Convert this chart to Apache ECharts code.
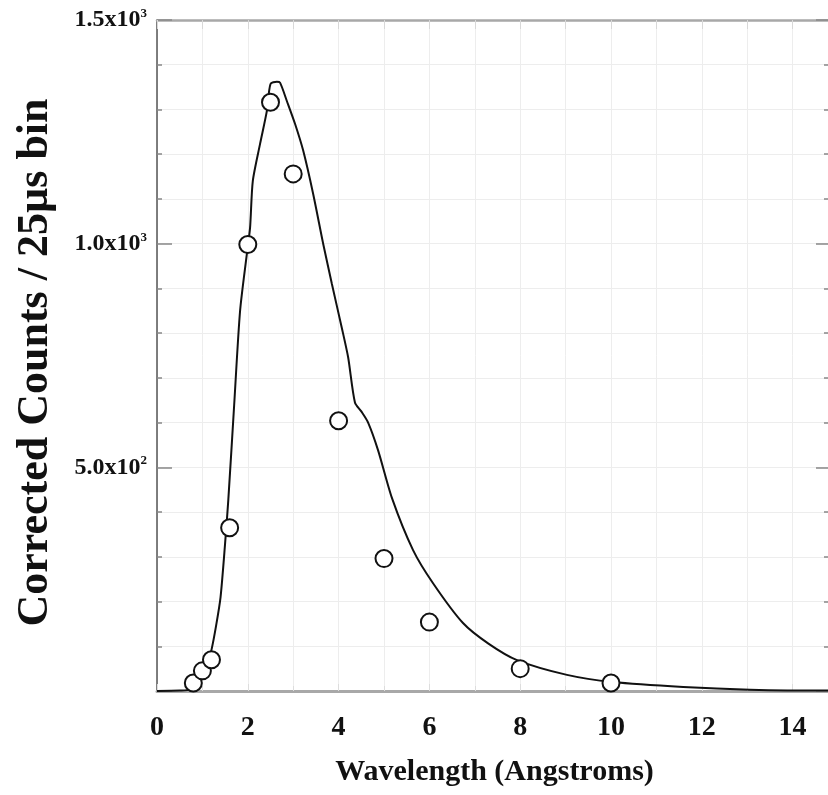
<!DOCTYPE html>
<html>
<head>
<meta charset="utf-8">
<script src="https://cdn.jsdelivr.net/npm/echarts@6/dist/echarts.min.js"></script>
<style>html,body{margin:0;padding:0;background:#fff;overflow:hidden}#c{width:828px;height:795px}</style>
</head>
<body>
<div id="c"></div>
<script>
// Measured data points (open circles)
var pointX = [0.8, 1.0, 1.2, 1.6, 2.0, 2.5, 3.0, 4.0, 5.0, 6.0, 8.0, 10.0];
var pointY = [18, 45, 70, 365, 998, 1316, 1156, 604, 296, 154, 50, 18];

// Fitted curve
var curveX = [0, 0.5, 0.75, 0.9, 1.0, 1.1, 1.2, 1.3, 1.4, 1.5, 1.57, 1.7, 1.83, 1.98, 2.05, 2.11, 2.27, 2.42, 2.5, 2.64, 2.71, 2.86, 3.04, 3.22, 3.44, 3.66, 3.85, 4.07, 4.21, 4.36, 4.5, 4.65, 4.87, 5.18, 5.64, 6.08, 6.74, 7.3, 7.93, 9.03, 10.04, 11.59, 13.06, 14.76, 15];
var curveY = [0, 1, 3, 12, 30, 55, 92, 145, 210, 330, 426, 640, 850, 978, 1036, 1140, 1223, 1297, 1357, 1362, 1360, 1319, 1268, 1208, 1111, 1000, 911, 812, 746, 645, 625, 600, 538, 430, 315, 241, 152, 106, 69, 36, 20, 9, 3, 1, 1];

// Tick labels
var yTickValues = [500, 1000, 1500];
var yTickMantissa = ['5.0', '1.0', '1.5'];
var yTickExponent = ['2', '3', '3'];

var xName = 'Wavelength (Angstroms)';
var yName = 'Corrected Counts / 25\u00b5s bin';

var FONT = '"Liberation Serif", "Times New Roman", serif';

var scatterData = pointX.map(function (x, i) { return [x, pointY[i]]; });
var curveData = curveX.map(function (x, i) { return [x, curveY[i]]; });

var chart = echarts.init(document.getElementById('c'), null, {renderer: 'canvas'});
var gridColor = '#ededed';

chart.setOption({
  animation: false,
  backgroundColor: '#fff',
  grid: {left: 157, top: 20, width: 681, height: 671, containLabel: false, outerBoundsMode: 'none'},
  xAxis: [{
    type: 'value', min: 0, max: 15, interval: 2, position: 'bottom',
    name: xName, nameLocation: 'middle', nameGap: 66,
    nameTextStyle: {fontFamily: FONT, fontWeight: 'bold', fontSize: 30, color: '#111', padding: [0, 6, 0, 0]},
    axisLine: {show: true, onZero: false, lineStyle: {color: '#a8a8a8', width: 3}},
    axisTick: {show: true, inside: true, length: 7, lineStyle: {color: '#dddddd'}},
    minorTick: {show: true, splitNumber: 2, length: 5, lineStyle: {color: '#dddddd'}},
    axisLabel: {margin: 23, fontFamily: FONT, fontWeight: 'bold', fontSize: 28, color: '#111', showMaxLabel: false},
    splitLine: {show: true, lineStyle: {color: gridColor, width: 1}},
    minorSplitLine: {show: true, lineStyle: {color: gridColor, width: 1}}
  }, {
    type: 'value', min: 0, max: 15, interval: 2, position: 'top',
    axisLine: {show: true, onZero: false, lineStyle: {color: '#a8a8a8', width: 2.5}},
    axisTick: {show: true, inside: true, length: 9, lineStyle: {color: '#d8d8d8'}},
    minorTick: {show: true, splitNumber: 2, length: 9, lineStyle: {color: '#d8d8d8'}},
    axisLabel: {show: false},
    splitLine: {show: false}
  }],
  yAxis: [{
    type: 'value', min: 0, max: 1500, interval: 500, position: 'left',
    name: yName, nameLocation: 'middle', nameGap: 99, nameRotate: 90,
    nameTextStyle: {fontFamily: FONT, fontWeight: 'bold', fontSize: 44, color: '#111', padding: [0, 14, 0, 0]},
    axisLine: {show: true, onZero: false, lineStyle: {color: '#555', width: 1.5}},
    axisTick: {show: true, inside: true, length: 15, lineStyle: {color: '#888', width: 1.5}},
    minorTick: {show: true, splitNumber: 5, length: 5, lineStyle: {color: '#888', width: 1.5}},
    axisLabel: {
      margin: 10, color: '#111',
      formatter: function (v) {
        var i = yTickValues.indexOf(v);
        if (i < 0) return '';
        return '{b|' + yTickMantissa[i] + 'x10}{s|' + yTickExponent[i] + '}';
      },
      rich: {
        b: {fontFamily: FONT, fontWeight: 'bold', fontSize: 24, color: '#111', lineHeight: 26},
        s: {fontFamily: FONT, fontWeight: 'bold', fontSize: 13, color: '#111', verticalAlign: 'top', lineHeight: 15}
      }
    },
    splitLine: {show: true, lineStyle: {color: gridColor, width: 1}},
    minorSplitLine: {show: true, lineStyle: {color: gridColor, width: 1}}
  }, {
    type: 'value', min: 0, max: 1500, interval: 500, position: 'right',
    axisLine: {show: false, onZero: false},
    axisTick: {show: true, inside: true, length: 22, lineStyle: {color: '#888', width: 1.5}},
    minorTick: {show: true, splitNumber: 5, length: 14, lineStyle: {color: '#888', width: 1.5}},
    axisLabel: {show: false},
    splitLine: {show: false}
  }],
  series: [{
    type: 'line', xAxisIndex: 0, yAxisIndex: 0,
    data: curveData, showSymbol: false, smooth: 0.25,
    lineStyle: {color: '#111', width: 2}, z: 2, clip: true
  }, {
    type: 'scatter', xAxisIndex: 0, yAxisIndex: 0,
    data: scatterData, symbol: 'circle', symbolSize: 17,
    itemStyle: {color: '#fff', borderColor: '#111', borderWidth: 2, opacity: 1}, z: 3
  }]
});
</script>
</body>
</html>
